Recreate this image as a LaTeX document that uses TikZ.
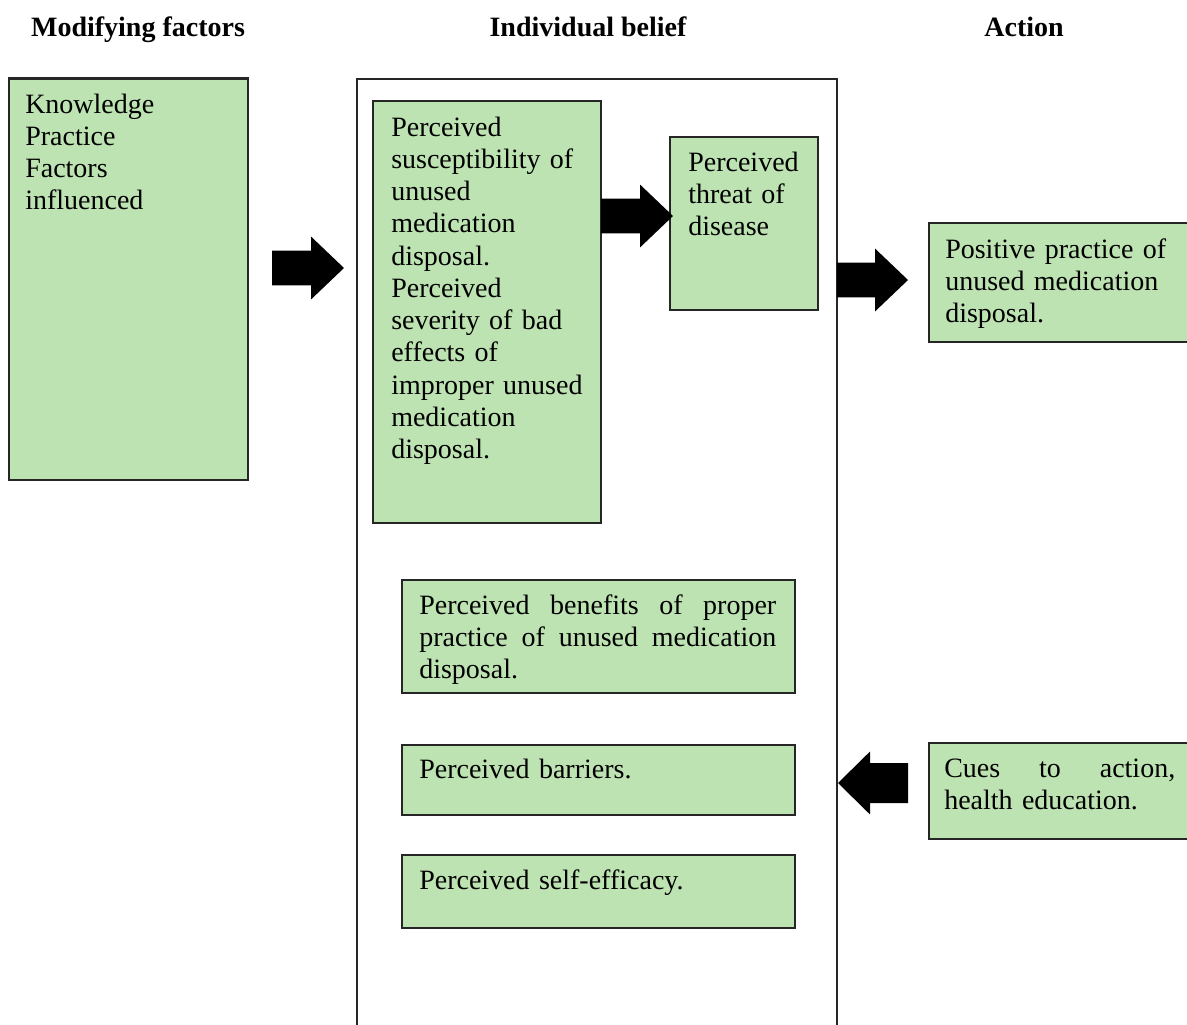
\documentclass[tikz,border=0pt]{standalone}
\usepackage{fontspec}
\setmainfont{Liberation Serif}
\usetikzlibrary{calc,fit}
\definecolor{boxgreen}{RGB}{190,227,178}
\tikzset{
  box/.style={draw=black!85, line width=1.1pt, fill=boxgreen, inner sep=0pt},
  txt/.style={anchor=base west, inner sep=0pt, align=left, text width=230pt,
              font=\fontsize{21}{24.2}\selectfont},
  jtxt/.style={anchor=base west, inner sep=0pt, align=left,
              font=\fontsize{21}{24.2}\selectfont},
  title/.style={anchor=base, inner sep=0pt, font=\bfseries\fontsize{21}{24}\selectfont},
  arrowR/.style={fill=black, to path={let \p1=(\tikztostart), \p2=(\tikztotarget) in
     (\x1,\y1+13.1pt) -- (\x2-24.75pt,\y1+13.1pt) -- (\x2-24.75pt,\y1+23.6pt) -- (\x2,\y1)
     -- (\x2-24.75pt,\y1-23.6pt) -- (\x2-24.75pt,\y1-13.1pt) -- (\x1,\y1-13.1pt) -- cycle}},
  arrowL/.style={fill=black, to path={let \p1=(\tikztostart), \p2=(\tikztotarget) in
     (\x1,\y1+15pt) -- (\x2+24pt,\y1+15pt) -- (\x2+24pt,\y1+23.6pt) -- (\x2,\y1)
     -- (\x2+24pt,\y1-23.6pt) -- (\x2+24pt,\y1-15pt) -- (\x1,\y1-15pt) -- cycle}},
}
\begin{document}
\begin{tikzpicture}[x=0.75pt,y=-0.75pt]
\clip (0,0) rectangle (1187,1024);
\fill[white] (0,0) rectangle (1187,1024);

% titles
\node[title] (t1) at (138,37) {Modifying factors};
\node[title] (t2) at (588,37) {Individual belief};
\node[title] (t3) at (1024,37) {Action};

% boxes
\node[box, fit={(9,79) (248,480)}] (mod) {};
\draw[line width=2pt, black!85] (mod.north west) -- (mod.north east);
\node[box, fill=white, fit={(357,79) (837,1040)}] (belief) {};
\node[box, fit={(373,101) (601,523)}] (sus) {};
\node[box, fit={(670,137) (818,310)}] (threat) {};
\node[box, fit={(929,223) (1195,342)}] (pos) {};
\node[box, fit={(402,580) (795,693)}] (ben) {};
\node[box, fit={(402,745) (795,815)}] (bar) {};
\node[box, fit={(402,855) (795,928)}] (self) {};
\node[box, fit={(929,743) (1195,839)}] (cues) {};

% texts
\node[txt] (modt) at (25,113) {Knowledge\\Practice\\Factors\\influenced};
\node[txt] (sust) at (391,136) {Perceived\\susceptibility of\\unused\\medication\\disposal.\\Perceived\\severity of bad\\effects of\\improper unused\\medication\\disposal.};
\node[txt] (threatt) at (688,171) {Perceived\\threat of\\disease};
\node[txt] (post) at (945,258) {Positive practice of\\unused medication\\disposal.};
\node[jtxt, text width=267.75pt] (bent) at (419,614) {Perceived\hfill benefits\hfill of\hfill proper\\practice\hfill of\hfill unused\hfill medication\\disposal.};
\node[txt] (bart) at (419,778) {Perceived barriers.};
\node[txt] (selft) at (419,889) {Perceived self-efficacy.};
\node[jtxt, text width=173.25pt] (cuest) at (944,777) {Cues\hfill to\hfill action,\\health education.};

% block arrows
\coordinate (a1s) at (272,268);
\coordinate (a1e) at (344,268);
\coordinate (a2s) at (601,216);
\coordinate (a2e) at (673,216);
\coordinate (a3s) at (837,280);
\coordinate (a3e) at (908,280);
\coordinate (a4s) at (908,783);
\coordinate (a4e) at (838,783);
\fill[arrowR] (a1s) to (a1e);
\fill[arrowR] (a2s) to (a2e);
\fill[arrowR] (a3s) to (a3e);
\fill[arrowL] (a4s) to (a4e);
\end{tikzpicture}
\end{document}
